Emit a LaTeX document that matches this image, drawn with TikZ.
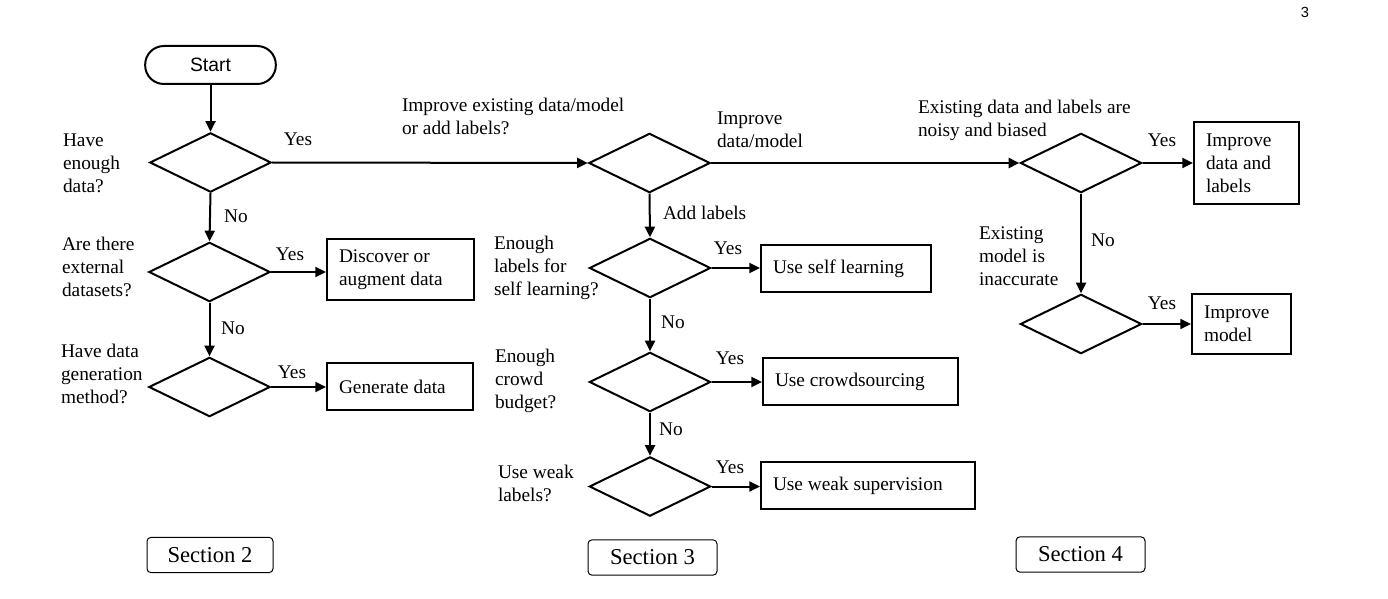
\documentclass[tikz,border=0pt]{standalone}
\usepackage{fontspec}
\setmainfont{Liberation Serif}
\newfontfamily\startfont{Liberation Sans}
\usetikzlibrary{shapes.geometric,arrows.meta}
\tikzset{every picture/.style={line width=1.5pt}}

\begin{document}
\begin{tikzpicture}[x=0.75pt,y=0.75pt,yscale=-1,xscale=1,
    font=\fontsize{14.5}{17.25}\selectfont,
    decision/.style={draw,diamond,inner sep=0pt,minimum width=91pt,minimum height=44.5pt},
    actbox/.style={draw,rectangle,inner xsep=9pt,inner ysep=0pt,align=flush left},
    secbox/.style={draw,rounded corners=3pt,line width=0.75pt,minimum height=26.5pt,inner sep=0pt,font=\fontsize{17}{20}\selectfont},
    txt/.style={anchor=west,inner sep=0pt,align=flush left},
    arr/.style={-{Triangle[length=8pt,width=7.5pt]}}]
        \useasboundingbox (0,0) rectangle (1388,599);

        % Page number
        \node [inner sep=0pt] (pagenum) at (1305,12) {\startfont\fontsize{11}{13}\selectfont 3};

        %Rounded Rect [id:start] 
        \node [draw,rounded corners=14pt,minimum width=98pt,minimum height=28.5pt,inner sep=0pt] (start) at (210.5,65) {\startfont Start};

        %Shape: Diamond [Section 2] 
        \node [decision] (enough) at (210.5,162.5) {};
        \node [decision] (external) at (209.5,272) {};
        \node [decision] (generate) at (209.5,387) {};
        %Shape: Diamond [Section 3] 
        \node [decision] (improve) at (649.5,163) {};
        \node [decision] (selflearn) at (650,268) {};
        \node [decision] (crowd) at (650,382) {};
        \node [decision] (weak) at (650,486.5) {};
        %Shape: Diamond [Section 4] 
        \node [decision] (noisy) at (1081,163) {};
        \node [decision] (inaccurate) at (1081,324) {};

        %Shape: Rectangle 
        \node [actbox,text width=92.25pt,minimum height=45.75pt] (discover) at (400.5,269.5) {Discover or\\augment data};
        \node [actbox,text width=91.5pt,minimum height=35.25pt] (gendata) at (400,386.5) {Generate data};
        \node [actbox,text width=109.5pt,minimum height=35.25pt] (useself) at (846,268.5) {Use self learning};
        \node [actbox,text width=128.25pt,minimum height=35.25pt] (usecrowd) at (860.5,381.5) {Use crowdsourcing};
        \node [actbox,text width=142.5pt,minimum height=35.25pt] (useweak) at (868,485.5) {Use weak supervision};
        \node [actbox,text width=60.75pt,minimum height=61.5pt] (impdata) at (1246.5,163) {Improve\\data and\\labels};
        \node [actbox,text width=56.25pt,minimum height=45pt] (impmodel) at (1241.5,324) {Improve\\model};

        %Rounded Rect [sections] 
        \node [secbox,minimum width=94.5pt] (sec2) at (210,555) {Section 2};
        \node [secbox,minimum width=96.75pt] (sec3) at (652.5,557.5) {Section 3};
        \node [secbox,minimum width=96.75pt] (sec4) at (1080.5,554.5) {Section 4};

        %Straight Lines 
        \draw [arr] (start) -- (enough.north);
        \draw [arr] (enough.south) -- (external.north);
        \draw [arr] (external.south) -- (generate.north);
        \draw [arr] (external.east) -- (external.east -| discover.west);
        \draw [arr] (generate.east) -- (generate.east -| gendata.west);
        \draw [arr] (enough.east) -- (improve.west);
        \draw [arr] (improve.south) -- (selflearn.north);
        \draw [arr] (selflearn.south) -- (crowd.north);
        \draw [arr] (crowd.south) -- (weak.north);
        \draw [arr] (selflearn.east) -- (selflearn.east -| useself.west);
        \draw [arr] (crowd.east) -- (crowd.east -| usecrowd.west);
        \draw [arr] (weak.east) -- (weak.east -| useweak.west);
        \draw [arr] (improve.east) -- (noisy.west);
        \draw [arr] (noisy.east) -- (impdata.west);
        \draw [arr] (noisy.south) -- (inaccurate.north);
        \draw [arr] (inaccurate.east) -- (inaccurate.east -| impmodel.west);

        % Text Node
        \node [txt] (q1) at (62,163) {Have\\enough\\data?};
        % Text Node
        \node [txt] (q2) at (61,267) {Are there\\external\\datasets?};
        % Text Node
        \node [txt] (q3) at (60,374) {Have data\\generation\\method?};
        % Text Node
        \node [txt] (q4) at (401,116.5) {Improve existing data/model\\or add labels?};
        % Text Node
        \node [txt] (q5) at (716,129.5) {Improve\\data/model};
        % Text Node
        \node [txt] (q6) at (493,268) {Enough\\labels for\\self learning?};
        % Text Node
        \node [txt] (q7) at (494,381) {Enough\\crowd\\budget?};
        % Text Node
        \node [txt] (q8) at (497,483.5) {Use weak\\labels?};
        % Text Node
        \node [txt] (q9) at (917,120.5) {Existing data and labels are\\noisy and biased};
        % Text Node
        \node [txt] (q10) at (978,256) {Existing\\model is\\inaccurate};
        % Text Node
        \node [txt] (addlab) at (662,213) {Add labels};

        % Yes / No
        \node (y1) at (298,139) {Yes};
        \node (n1) at (236,216) {No};
        \node (y2) at (290,254) {Yes};
        \node (n2) at (233,328) {No};
        \node (y3) at (292,372) {Yes};
        \node (y4) at (728,248) {Yes};
        \node (n4) at (673,322) {No};
        \node (y5) at (730,358) {Yes};
        \node (n5) at (671,429) {No};
        \node (y6) at (730,467) {Yes};
        \node (y7) at (1162,140) {Yes};
        \node (n7) at (1103,240) {No};
        \node (y8) at (1162,303) {Yes};

\end{tikzpicture}
\end{document}
